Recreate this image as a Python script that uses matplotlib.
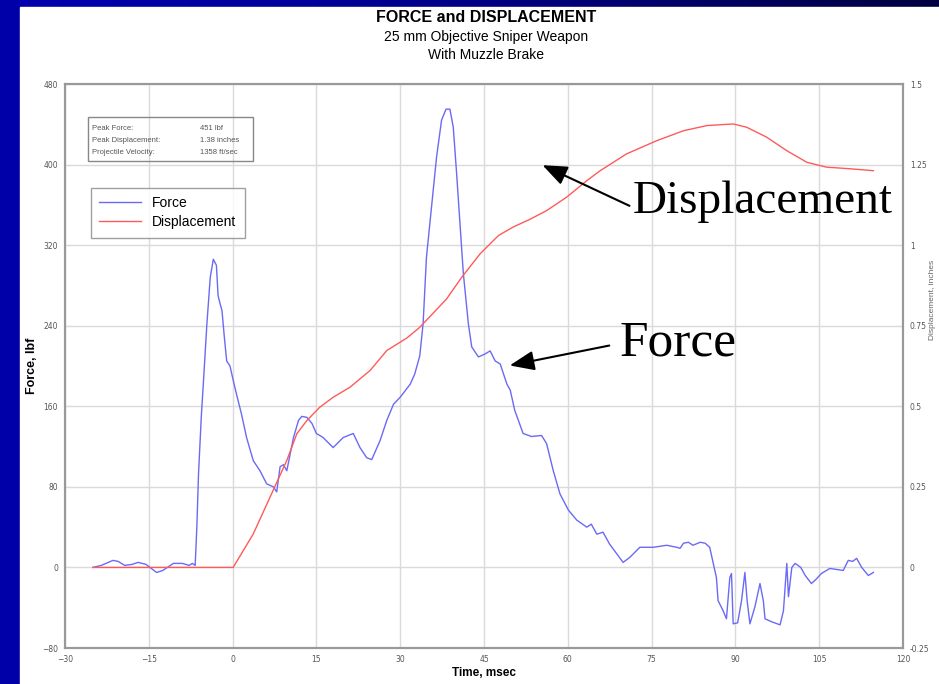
import numpy as np
import matplotlib
matplotlib.use("Agg")
import matplotlib.pyplot as plt
from matplotlib.patches import Rectangle, FancyArrowPatch
from matplotlib.colors import LinearSegmentedColormap

# ---------------- data ----------------
force_t = [-25.0, -23.5, -21.4, -20.5, -19.3, -18.0, -16.9, -15.5, -13.6, -12.5, -10.6, -9.0, -7.8, -7.2, -6.7,
           -6.4, -6.1, -5.6, -5.2, -4.6, -4.0, -3.45, -2.9, -2.6, -2.25, -1.9, -1.5, -1.06, -0.47, 0.1, 0.7,
           1.6, 2.5, 3.7, 4.9, 6.1, 7.3, 7.9, 8.5, 9.1, 9.7, 10.9, 11.8, 12.4, 13.3, 14.2, 15.0, 16.2, 18.0,
           19.8, 21.6, 22.8, 24.0, 24.9, 26.4, 27.6, 28.8, 30.0, 31.8, 32.6, 33.5, 34.1, 34.7, 35.6, 36.5,
           37.4, 38.2, 38.9, 39.5, 40.1, 40.7, 41.3, 42.2, 42.8, 44.0, 45.2, 46.1, 47.0, 47.9, 49.1, 49.7,
           50.5, 52.0, 53.5, 55.3, 56.2, 57.4, 58.6, 60.1, 61.6, 63.4, 64.2, 65.2, 66.3, 67.5, 68.7, 69.9,
           71.1, 72.9, 75.3, 77.7, 79.5, 80.1, 80.7, 81.6, 82.4, 83.7, 84.6, 85.4, 86.0, 86.6, 86.9, 87.8,
           88.4, 89.0, 89.3, 89.6, 90.4, 91.1, 91.7, 92.1, 92.6, 93.5, 94.4, 95.0, 95.3, 96.5, 98.0, 98.6,
           99.2, 99.5, 100.1, 100.7, 101.7, 102.5, 103.6, 104.4, 105.4, 106.9, 109.3, 110.2, 111.0, 111.7,
           112.6, 113.8, 114.7]
force_lbf = [0, 2, 7, 6, 2, 3, 5, 3, -5, -3, 4, 4, 2, 4, 2,
             40, 93, 150, 186, 242, 288, 306, 300, 270, 262, 255, 230, 205, 200, 186, 172,
             152, 129, 106, 96, 83, 80, 75, 100, 102, 96, 129, 146, 150, 149, 143, 133, 129, 119,
             129, 133, 119, 109, 107, 126, 146, 162, 169, 182, 192, 210, 242, 308, 358, 407,
             444, 455, 455, 437, 391, 341, 292, 242, 219, 209, 212, 215, 205, 202, 182, 176,
             156, 133, 130, 131, 123, 96, 73, 57, 47, 40, 43, 33, 35, 23, 14, 5,
             10, 20, 20, 22, 20, 19, 24, 25, 22, 25, 24, 20, 5, -10, -33, -43,
             -51, -10, -6, -56, -55, -33, -5, -33, -56, -39, -16, -33, -51, -54, -57, -43,
             4, -29, 0, 4, 0, -8, -16, -12, -6, -1, -3, 7, 6, 9,
             0, -8, -5]

disp_t = [-25.0, 0.1, 3.7, 6.7, 9.7, 11.5, 13.3, 15.6, 18.0, 21.0, 24.6, 27.6, 31.2, 33.5, 38.3, 41.0,
          44.3, 47.6, 50.2, 53.2, 56.2, 59.8, 63.4, 65.8, 70.5, 75.9, 80.7, 84.9, 89.6, 92.0, 95.6,
          99.2, 102.8, 106.3, 110.5, 114.7]
disp_in = [0.0, 0.0, 0.104, 0.218, 0.332, 0.415, 0.456, 0.497, 0.528, 0.559, 0.611, 0.673, 0.712, 0.745,
           0.833, 0.900, 0.973, 1.030, 1.056, 1.080, 1.107, 1.149, 1.200, 1.231, 1.283, 1.324, 1.355,
           1.371, 1.376, 1.366, 1.335, 1.293, 1.257, 1.242, 1.237, 1.231]

x_ticks = [-30, -15, 0, 15, 30, 45, 60, 75, 90, 105, 120]
force_ticks = [-80, 0, 80, 160, 240, 320, 400, 480]
disp_ticks = [-0.25, 0, 0.25, 0.5, 0.75, 1, 1.25, 1.5]
disp_tick_labels = ["-0.25", "0", "0.25", "0.5", "0.75", "1", "1.25", "1.5"]

info_labels = ["Peak Force:", "Peak Displacement:", "Projectile Velocity:"]
info_values = ["451 lbf", "1.38 inches", "1358 ft/sec"]

# ---------------- figure ----------------
W, H = 939, 684
fig = plt.figure(figsize=(W / 100, H / 100), dpi=100, facecolor="#0000a8")

bg = fig.add_axes([0, 0, 1, 1], zorder=-10)
bg.set_axis_off()
grad = np.linspace(0, 1, 256)[None, :]
cmap = LinearSegmentedColormap.from_list("slide", ["#0000b0", "#00009a", "#000070", "#000040"])
bg.imshow(grad, aspect="auto", cmap=cmap, extent=[0, 1, 0, 1])
bg.add_patch(Rectangle((0, 0), 20 / W, 1, color="#0000a8", transform=bg.transAxes, zorder=2))
bg.add_patch(Rectangle((20 / W, 0), 1 - 20 / W, (H - 7) / H, color="white", transform=bg.transAxes, zorder=3))
bg.set_xlim(0, 1)
bg.set_ylim(0, 1)

ax = fig.add_axes([65 / W, 36 / H, (903 - 65) / W, (648 - 84) / H])
ax.set_facecolor("white")
ax.plot(force_t, force_lbf, color="#6a6af5", lw=1.0, label="Force", zorder=3)
ax.set_xlim(-30, 120)
ax.set_ylim(-80, 480)
ax.set_xticks(x_ticks)
ax.set_yticks(force_ticks)
ax.grid(True, color="#dadada", lw=1.0)
ax.tick_params(labelsize=5.5, colors="#555555", length=0, pad=5)
for s in ax.spines.values():
    s.set_color("#999999")
    s.set_linewidth(1.5)

ax2 = ax.twinx()
ax2.plot(disp_t, disp_in, color="#ff5a5a", lw=1.0, label="Displacement", zorder=3)
ax2.set_ylim(-0.25, 1.5)
ax2.set_yticks(disp_ticks)
ax2.set_yticklabels(disp_tick_labels)
ax2.tick_params(labelsize=5.5, colors="#555555", length=0, pad=5)
for s in ax2.spines.values():
    s.set_color("#999999")
    s.set_linewidth(1.5)

sans = "Liberation Sans"
ax.set_xlabel("Time, msec", fontsize=8.5, family=sans, fontweight="bold", labelpad=2)
ax.set_ylabel("Force, lbf", fontsize=9, family=sans, fontweight="bold", labelpad=3)
fig.text(932 / W, 1 - 300 / H, "Displacement, inches", rotation=90, fontsize=6, family=sans,
         color="#666666", ha="center", va="center")

# titles
fig.text(486 / W, 1 - 17 / H, "FORCE and DISPLACEMENT", ha="center", va="center",
         fontsize=11.5, fontweight="bold", family=sans)
fig.text(486 / W, 1 - 37 / H, "25 mm Objective Sniper Weapon", ha="center", va="center",
         fontsize=10, family=sans)
fig.text(486 / W, 1 - 55 / H, "With Muzzle Brake", ha="center", va="center",
         fontsize=10, family=sans)

# info box
fig.add_artist(Rectangle((88 / W, 1 - 161 / H), (253 - 88) / W, (161 - 117) / H,
                         transform=fig.transFigure, fill=False, edgecolor="#888888", lw=1.0))
for i, (lab, val) in enumerate(zip(info_labels, info_values)):
    y = 1 - (128 + i * 12) / H
    fig.text(92 / W, y, lab, fontsize=5.5, family=sans, color="#555555", va="center")
    fig.text(200 / W, y, val, fontsize=5.5, family=sans, color="#555555", va="center")

# legend
handles = ax.get_lines() + ax2.get_lines()
leg = ax.legend(handles, [h.get_label() for h in handles], loc="upper left",
                bbox_to_anchor=((91 - 65) / (903 - 65), (648 - 188) / (648 - 84)),
                frameon=True, fancybox=False, edgecolor="#888888",
                borderaxespad=0, handlelength=3.0, borderpad=0.6, labelspacing=0.35,
                prop={"family": sans, "size": 10})
leg.get_frame().set_linewidth(1.0)
leg.set_zorder(5)

# big annotations
serif = "Liberation Serif"
fig.text(763 / W, 1 - 202 / H, "Displacement", fontsize=34, family=serif, ha="center", va="center")
fig.text(678 / W, 1 - 343 / H, "Force", fontsize=37, family=serif, ha="center", va="center")
fig.add_artist(FancyArrowPatch(
    (632 / W, 1 - 207 / H), (540 / W, 1 - 164 / H), transform=fig.transFigure,
    arrowstyle="-|>,head_length=6,head_width=2.4", mutation_scale=2.5, color="black", lw=1.5))
fig.add_artist(FancyArrowPatch(
    (612 / W, 1 - 345 / H), (507 / W, 1 - 366 / H), transform=fig.transFigure,
    arrowstyle="-|>,head_length=6,head_width=2.4", mutation_scale=2.5, color="black", lw=1.5))

fig.savefig("out.png", dpi=100, facecolor=fig.get_facecolor())
